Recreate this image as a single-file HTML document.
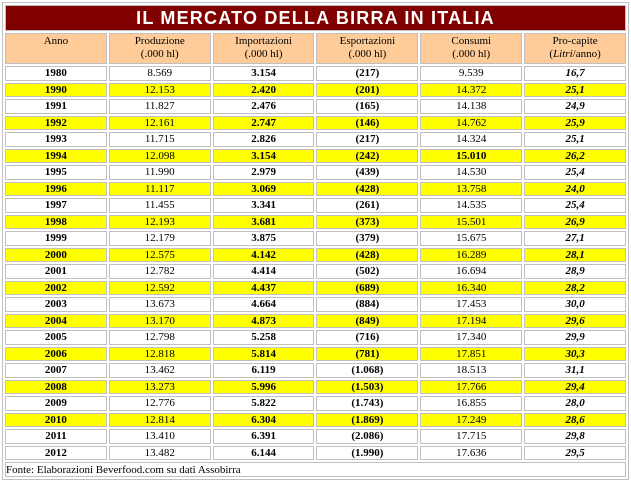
<!DOCTYPE html>
<html><head><meta charset="utf-8">
<style>
html,body{margin:0;padding:0;background:#fff;width:631px;height:481px;overflow:hidden}
table{position:absolute;left:2px;top:2px;width:627px;border:1px solid #c0c0c0;border-spacing:2px;table-layout:fixed;font-family:"Liberation Serif",serif;font-size:11px;color:#000}
td{border:1px solid #c0c0c0;text-align:center;padding:0;line-height:12px;height:12.5px;overflow:hidden;white-space:nowrap}
td.t{background:#800000;color:#fff;font-family:"Liberation Sans",sans-serif;font-weight:bold;font-size:18px;height:24px;line-height:24px;letter-spacing:1.2px;border-color:#c0c0c0}
tr.h td{background:#ffcc99;height:28px;line-height:13px;vertical-align:top;padding-top:1px}
tr.y td{background:#ffff00}
td:nth-child(1),td:nth-child(3),td:nth-child(4){font-weight:bold}
td:nth-child(6){font-weight:bold;font-style:italic}
tr.h td{font-weight:normal;font-style:normal}
td.f{text-align:left;font-weight:normal;height:13px}
</style></head><body>
<table>
<tr><td class="t" colspan="6">IL MERCATO DELLA BIRRA IN ITALIA</td></tr>
<tr class="h"><td>Anno</td><td>Produzione<br>(.000 hl)</td><td>Importazioni<br>(.000 hl)</td><td>Esportazioni<br>(.000 hl)</td><td>Consumi<br>(.000 hl)</td><td>Pro-capite<br>(<i>Litri</i>/anno)</td></tr>
<tr><td>1980</td><td>8.569</td><td>3.154</td><td>(217)</td><td>9.539</td><td>16,7</td></tr>
<tr class="y"><td>1990</td><td>12.153</td><td>2.420</td><td>(201)</td><td>14.372</td><td>25,1</td></tr>
<tr><td>1991</td><td>11.827</td><td>2.476</td><td>(165)</td><td>14.138</td><td>24,9</td></tr>
<tr class="y"><td>1992</td><td>12.161</td><td>2.747</td><td>(146)</td><td>14.762</td><td>25,9</td></tr>
<tr><td>1993</td><td>11.715</td><td>2.826</td><td>(217)</td><td>14.324</td><td>25,1</td></tr>
<tr class="y"><td>1994</td><td>12.098</td><td>3.154</td><td>(242)</td><td><b>15.010</b></td><td>26,2</td></tr>
<tr><td>1995</td><td>11.990</td><td>2.979</td><td>(439)</td><td>14.530</td><td>25,4</td></tr>
<tr class="y"><td>1996</td><td>11.117</td><td>3.069</td><td>(428)</td><td>13.758</td><td>24,0</td></tr>
<tr><td>1997</td><td>11.455</td><td>3.341</td><td>(261)</td><td>14.535</td><td>25,4</td></tr>
<tr class="y"><td>1998</td><td>12.193</td><td>3.681</td><td>(373)</td><td>15.501</td><td>26,9</td></tr>
<tr><td>1999</td><td>12.179</td><td>3.875</td><td>(379)</td><td>15.675</td><td>27,1</td></tr>
<tr class="y"><td>2000</td><td>12.575</td><td>4.142</td><td>(428)</td><td>16.289</td><td>28,1</td></tr>
<tr><td>2001</td><td>12.782</td><td>4.414</td><td>(502)</td><td>16.694</td><td>28,9</td></tr>
<tr class="y"><td>2002</td><td>12.592</td><td>4.437</td><td>(689)</td><td>16.340</td><td>28,2</td></tr>
<tr><td>2003</td><td>13.673</td><td>4.664</td><td>(884)</td><td>17.453</td><td>30,0</td></tr>
<tr class="y"><td>2004</td><td>13.170</td><td>4.873</td><td>(849)</td><td>17.194</td><td>29,6</td></tr>
<tr><td>2005</td><td>12.798</td><td>5.258</td><td>(716)</td><td>17.340</td><td>29,9</td></tr>
<tr class="y"><td>2006</td><td>12.818</td><td>5.814</td><td>(781)</td><td>17.851</td><td>30,3</td></tr>
<tr><td>2007</td><td>13.462</td><td>6.119</td><td>(1.068)</td><td>18.513</td><td>31,1</td></tr>
<tr class="y"><td>2008</td><td>13.273</td><td>5.996</td><td>(1.503)</td><td>17.766</td><td>29,4</td></tr>
<tr><td>2009</td><td>12.776</td><td>5.822</td><td>(1.743)</td><td>16.855</td><td>28,0</td></tr>
<tr class="y"><td>2010</td><td>12.814</td><td>6.304</td><td>(1.869)</td><td>17.249</td><td>28,6</td></tr>
<tr><td>2011</td><td>13.410</td><td>6.391</td><td>(2.086)</td><td>17.715</td><td>29,8</td></tr>
<tr><td>2012</td><td>13.482</td><td>6.144</td><td>(1.990)</td><td>17.636</td><td>29,5</td></tr>
<tr><td class="f" colspan="6">Fonte: Elaborazioni Beverfood.com su dati Assobirra</td></tr>
</table>
</body></html>
